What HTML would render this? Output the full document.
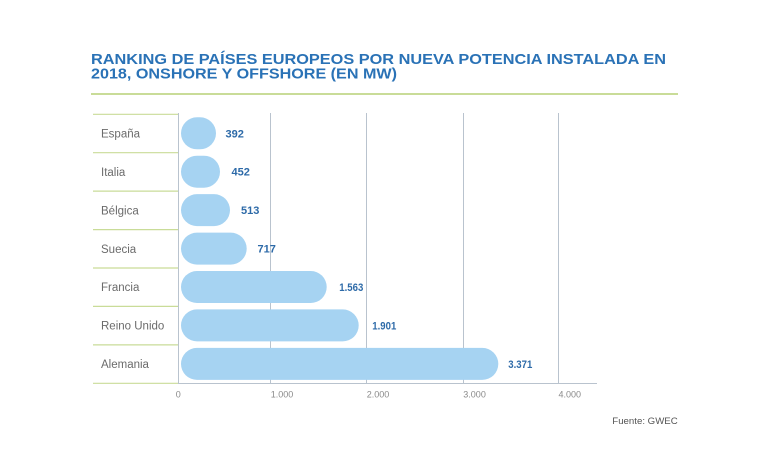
<!DOCTYPE html>
<html><head><meta charset="utf-8"><style>
html,body{margin:0;padding:0;background:#fff;}
svg{display:block;}
</style></head><body>
<svg width="768" height="464" viewBox="0 0 768 464" xmlns="http://www.w3.org/2000/svg" font-family="Liberation Sans, sans-serif">
<rect width="768" height="464" fill="#fff"/>
<text x="91" y="64" font-size="15" font-weight="bold" fill="#2a72b6" textLength="575" lengthAdjust="spacingAndGlyphs">RANKING DE PAÍSES EUROPEOS POR NUEVA POTENCIA INSTALADA EN</text>
<text x="91" y="78.5" font-size="15" font-weight="bold" fill="#2a72b6" textLength="306" lengthAdjust="spacingAndGlyphs">2018, ONSHORE Y OFFSHORE (EN MW)</text>
<rect x="91" y="93" width="587" height="2" fill="#c9dc98"/>
<!-- gridlines -->
<g stroke="#b9c3ce" stroke-width="1">
<line x1="270.5" y1="113" x2="270.5" y2="383"/>
<line x1="366.5" y1="113" x2="366.5" y2="383"/>
<line x1="463.5" y1="113" x2="463.5" y2="383"/>
<line x1="558.5" y1="113" x2="558.5" y2="383"/>
<line x1="178.5" y1="113" x2="178.5" y2="384"/>
<line x1="178" y1="383.5" x2="597" y2="383.5"/>
</g>
<!-- green separators -->
<g stroke="#c9dc98" stroke-width="1.2">
<line x1="93" y1="114.3" x2="178" y2="114.3"/>
<line x1="93" y1="152.7" x2="178" y2="152.7"/>
<line x1="93" y1="191.1" x2="178" y2="191.1"/>
<line x1="93" y1="229.6" x2="178" y2="229.6"/>
<line x1="93" y1="268.0" x2="178" y2="268.0"/>
<line x1="93" y1="306.4" x2="178" y2="306.4"/>
<line x1="93" y1="344.9" x2="178" y2="344.9"/>
<line x1="93" y1="383.3" x2="178" y2="383.3"/>
</g>
<!-- bars -->
<g fill="#a6d3f2">
<rect x="181" y="117.3" width="35" height="32" rx="16" ry="16"/>
<rect x="181" y="155.7" width="39" height="32" rx="16" ry="16"/>
<rect x="181" y="194.1" width="49" height="32" rx="16" ry="16"/>
<rect x="181" y="232.6" width="65.7" height="32" rx="16" ry="16"/>
<rect x="181" y="271.0" width="145.7" height="32" rx="16" ry="16"/>
<rect x="181" y="309.4" width="177.7" height="32" rx="16" ry="16"/>
<rect x="181" y="347.9" width="317.3" height="32" rx="16" ry="16"/>
</g>
<!-- country labels -->
<g font-size="11.5" fill="#6b6b6b">
<text x="101" y="137.5">España</text>
<text x="101" y="175.9">Italia</text>
<text x="101" y="214.3">Bélgica</text>
<text x="101" y="252.8">Suecia</text>
<text x="101" y="291.2">Francia</text>
<text x="101" y="329.6">Reino Unido</text>
<text x="101" y="368.1">Alemania</text>
</g>
<!-- values -->
<g font-size="11" font-weight="bold" fill="#2d6aa8">
<text x="225.5" y="137.3">392</text>
<text x="231.5" y="175.7">452</text>
<text x="241" y="214.1">513</text>
<text x="257.5" y="252.6">717</text>
<text x="339.3" y="291.0" textLength="24" lengthAdjust="spacingAndGlyphs">1.563</text>
<text x="372.3" y="329.4" textLength="24" lengthAdjust="spacingAndGlyphs">1.901</text>
<text x="508.3" y="367.9" textLength="24" lengthAdjust="spacingAndGlyphs">3.371</text>
</g>
<!-- ticks -->
<g font-size="9" fill="#8a8a8a">
<text x="178.3" y="397.5" text-anchor="middle">0</text>
<text x="270.7" y="397.5">1.000</text>
<text x="366.7" y="397.5">2.000</text>
<text x="463.3" y="397.5">3.000</text>
<text x="558.5" y="397.5">4.000</text>
</g>
<text x="612.3" y="424" font-size="9.6" fill="#555" textLength="65.4" lengthAdjust="spacingAndGlyphs">Fuente: GWEC</text>
</svg>
</body></html>
